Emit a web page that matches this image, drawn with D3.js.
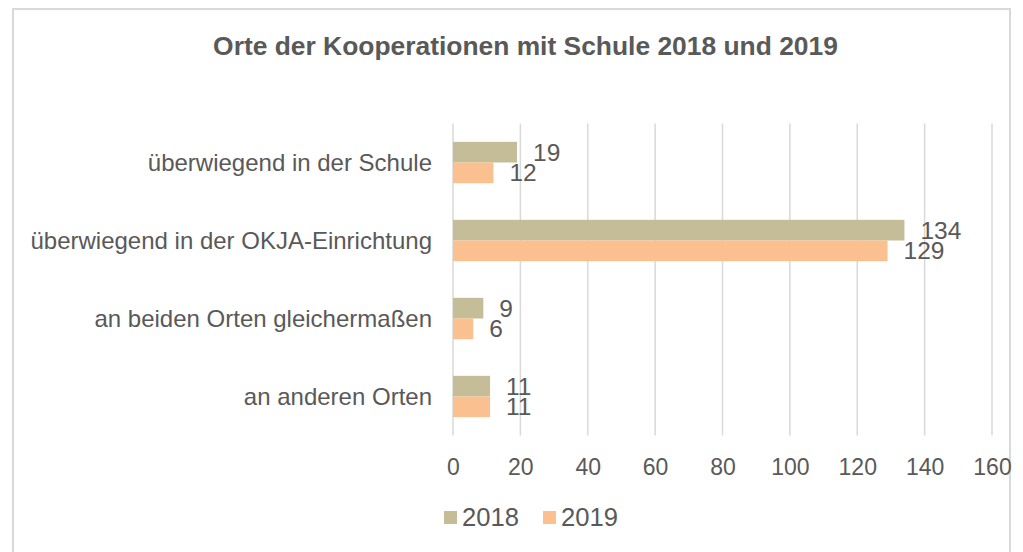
<!DOCTYPE html>
<html lang="de">
<head>
<meta charset="UTF-8">
<title>Orte der Kooperationen mit Schule 2018 und 2019</title>
<script src="https://d3js.org/d3.v7.min.js"></script>
<style>
    body { margin: 0; background: #fff; }
    svg text { font-family: "Liberation Sans", Arial, sans-serif; fill: #595959; }
</style>
</head>
<body>
<svg width="1023" height="552"></svg>
<script>
// data
var categories = ["überwiegend in der Schule", "überwiegend in der OKJA-Einrichtung",
                  "an beiden Orten gleichermaßen", "an anderen Orten"];
var years = ["2018", "2019"];
var values2018 = [19, 134, 9, 11];
var values2019 = [12, 129, 6, 11];
var xTicks = [0, 20, 40, 60, 80, 100, 120, 140, 160];

var colors = { "2018": "#c4bd97", "2019": "#fac090" };
var rows = categories.map(function(c, i) {
    return { cat: c, "2018": values2018[i], "2019": values2019[i] };
});

var svg = d3.select("svg");

// chart frame
svg.append("rect")
    .attr("x", 13).attr("y", 9)
    .attr("width", 997).attr("height", 560)
    .attr("fill", "none")
    .attr("stroke", "#d9d9d9")
    .attr("stroke-width", 2);

// title
svg.append("text")
    .attr("x", 525.5).attr("y", 55)
    .attr("text-anchor", "middle")
    .style("font-size", "26.4px")
    .style("font-weight", "bold")
    .text("Orte der Kooperationen mit Schule 2018 und 2019");

var x = d3.scaleLinear().domain([0, 160]).range([453, 992]);
var y = d3.scaleBand().domain(categories).range([123.5, 435.5]).paddingInner(0.47).paddingOuter(0.235);
var ySub = d3.scaleBand().domain(years).range([0, y.bandwidth()]);

// gridlines
svg.append("g").selectAll("line")
    .data(xTicks)
    .enter().append("line")
    .attr("x1", d => x(d)).attr("x2", d => x(d))
    .attr("y1", 123.5).attr("y2", 435.5)
    .attr("stroke", "#d9d9d9")
    .attr("stroke-width", 1.5);

// x axis labels
var xAxis = svg.append("g")
    .attr("transform", "translate(0,435.5)")
    .call(d3.axisBottom(x).tickValues(xTicks).tickSize(0).tickPadding(0));
xAxis.select(".domain").remove();
xAxis.selectAll("text")
    .attr("y", 39)
    .attr("dy", null)
    .style("font-size", "23px")
    .style("font-family", "Liberation Sans, Arial, sans-serif")
    .attr("fill", "#595959");

// category labels
var yAxis = svg.append("g")
    .attr("transform", "translate(453,0)")
    .call(d3.axisLeft(y).tickSize(0).tickPadding(21));
yAxis.select(".domain").remove();
yAxis.selectAll("text")
    .attr("dy", "0.35em")
    .style("font-size", "24px")
    .style("font-family", "Liberation Sans, Arial, sans-serif")
    .attr("fill", "#595959");

// bars
var groups = svg.append("g").selectAll("g")
    .data(rows)
    .enter().append("g")
    .attr("transform", d => "translate(0," + y(d.cat) + ")");

groups.selectAll("rect")
    .data(d => years.map(k => ({ key: k, value: d[k] })))
    .enter().append("rect")
    .attr("x", x(0))
    .attr("y", d => ySub(d.key))
    .attr("width", d => x(d.value) - x(0))
    .attr("height", ySub.bandwidth())
    .attr("fill", d => colors[d.key]);

groups.selectAll("text.val")
    .data(d => years.map(k => ({ key: k, value: d[k] })))
    .enter().append("text")
    .attr("class", "val")
    .attr("x", d => x(d.value) + 16)
    .attr("y", d => ySub(d.key) + ySub.bandwidth() / 2)
    .attr("dy", "0.35em")
    .style("font-size", "24.5px")
    .text(d => d.value);

// legend
var legend = svg.append("g").selectAll("g")
    .data(years)
    .enter().append("g")
    .attr("transform", (d, i) => "translate(" + (444 + i * 99) + ",511)");
legend.append("rect")
    .attr("width", 13).attr("height", 13)
    .attr("fill", d => colors[d]);
legend.append("text")
    .attr("x", 18).attr("y", 15)
    .style("font-size", "25.6px")
    .text(d => d);
</script>
</body>
</html>
